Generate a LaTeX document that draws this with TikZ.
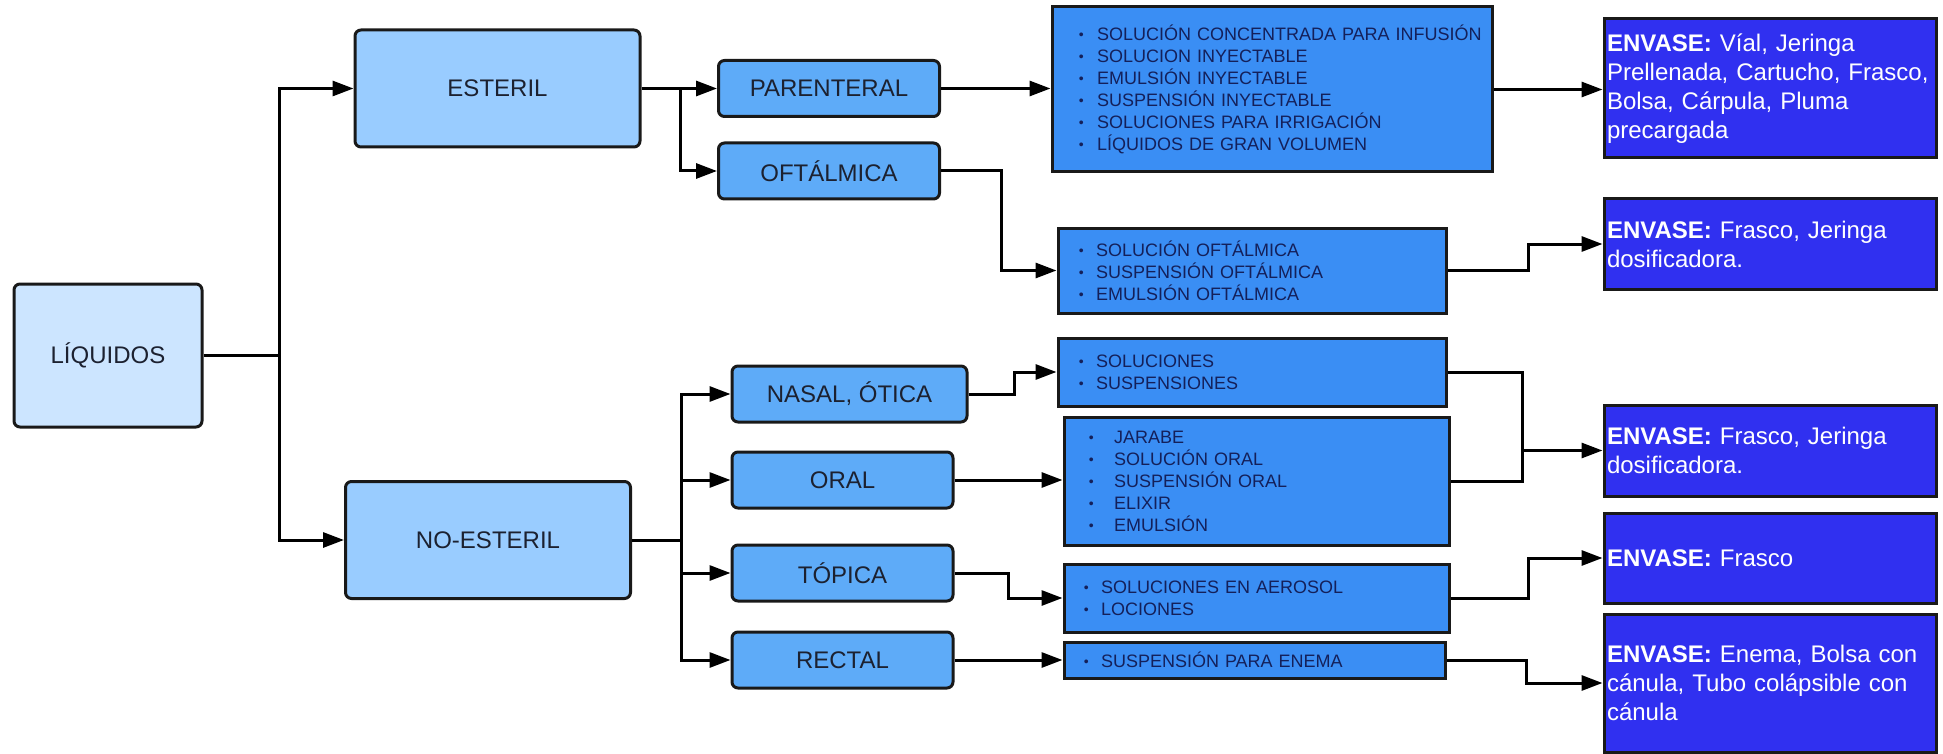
\documentclass[tikz,border=0pt]{standalone}
\usepackage{fontspec}
\setmainfont{Liberation Sans}
\usetikzlibrary{arrows.meta}
\definecolor{cliq}{HTML}{CCE5FF}
\definecolor{cgrupo}{HTML}{99CCFF}
\definecolor{cvia}{HTML}{5EABF8}
\definecolor{clista}{HTML}{3A8EF4}
\definecolor{cenvase}{HTML}{3030F0}
\definecolor{ctexto}{HTML}{1C2130}
\definecolor{cnavy}{HTML}{14205A}
\newcommand{\punto}[2][17.1pt]{\mbox{\makebox[#1][l]{\fontsize{14}{14}\selectfont\raisebox{1pt}{\textbullet}}#2}}
\begin{document}
\begin{tikzpicture}[x=1pt,y=-1pt,
  lin/.style={line width=3pt},
  flecha/.style={lin,-{Triangle[length=21pt,width=15pt]}},
  caja/.style={draw=black!90,line width=3pt,rounded corners=6pt,text=ctexto,inner sep=0pt,font=\fontsize{24}{29}\selectfont},
  raiz/.style={caja,fill=cliq,minimum width=188pt,minimum height=143pt},
  grupo/.style={caja,fill=cgrupo,minimum width=285pt,minimum height=117pt},
  via/.style={caja,fill=cvia,minimum width=221pt,minimum height=56pt},
  lista/.style={draw=black!90,line width=3pt,fill=clista,text=cnavy,align=left,inner ysep=0pt,font=\fontsize{18}{22}\selectfont},
  envase/.style={draw=black!90,line width=3pt,fill=cenvase,text=white,align=left,text width=326pt,inner xsep=3pt,inner ysep=0pt,font=\fontsize{24}{29}\selectfont}]
\useasboundingbox (0,0) rectangle (1943,754);
\node[raiz] (liq) at (108,355.5) {LÍQUIDOS};
\node[grupo] (est) at (497.5,88.5) {ESTERIL};
\node[grupo] (noe) at (488,540) {NO-ESTERIL};
\node[via] (par) at (829,88.5) {PARENTERAL};
\node[via] (oft) at (829,171) {OFTÁLMICA};
\node[via,minimum width=235pt] (nas) at (849.5,394) {NASAL, ÓTICA};
\node[via] (ora) at (842.5,480) {ORAL};
\node[via] (top) at (842.5,573) {TÓPICA};
\node[via] (rec) at (842.5,660) {RECTAL};
\node[lista,text width=386.2pt,inner xsep=26.9pt,minimum height=165pt] (lpar) at (1272,89.5)
  {\punto[18.1pt]{SOLUCIÓN CONCENTRADA PARA INFUSIÓN}\\\punto[18.1pt]{SOLUCION INYECTABLE}\\
   \punto[18.1pt]{EMULSIÓN INYECTABLE}\\\punto[18.1pt]{SUSPENSIÓN INYECTABLE}\\
   \punto[18.1pt]{SOLUCIONES PARA IRRIGACIÓN}\\\punto[18.1pt]{LÍQUIDOS DE GRAN VOLUMEN}};
\node[lista,text width=346.2pt,inner xsep=20.9pt,minimum height=85pt] (loft) at (1252,270.5)
  {\punto{SOLUCIÓN OFTÁLMICA}\\\punto{SUSPENSIÓN OFTÁLMICA}\\\punto{EMULSIÓN OFTÁLMICA}};
\node[lista,text width=346.2pt,inner xsep=20.9pt,minimum height=68pt] (lnas) at (1252,372)
  {\punto{SOLUCIONES}\\\punto{SUSPENSIONES}};
\node[lista,text width=335.2pt,inner xsep=24.9pt,minimum height=128pt] (lora) at (1256.5,481)
  {\punto[25.1pt]{JARABE}\\\punto[25.1pt]{SOLUCIÓN ORAL}\\\punto[25.1pt]{SUSPENSIÓN ORAL}\\
   \punto[25.1pt]{ELIXIR}\\\punto[25.1pt]{EMULSIÓN}};
\node[lista,text width=345.2pt,inner xsep=19.9pt,minimum height=68pt] (ltop) at (1256.5,598)
  {\punto{SOLUCIONES EN AEROSOL}\\\punto{LOCIONES}};
\node[lista,text width=341.2pt,inner xsep=19.9pt,minimum height=36pt] (lrec) at (1254.5,660)
  {\punto{SUSPENSIÓN PARA ENEMA}};
\node[envase,minimum height=139pt] (e1) at (1770,88.5)
  {\textbf{ENVASE:} Víal, Jeringa\\Prellenada, Cartucho, Frasco,\\Bolsa, Cárpula, Pluma\\precargada};
\node[envase,minimum height=90pt] (e2) at (1770,244) {\textbf{ENVASE:} Frasco, Jeringa\\dosificadora.};
\node[envase,minimum height=91pt] (e3) at (1770,450.5) {\textbf{ENVASE:} Frasco, Jeringa\\dosificadora.};
\node[envase,minimum height=90pt] (e4) at (1770,558) {\textbf{ENVASE:} Frasco};
\node[envase,minimum height=138pt] (e5) at (1770,683)
  {\textbf{ENVASE:} Enema, Bolsa con\\cánula, Tubo colápsible con\\cánula};
\coordinate (j0) at (279,355.5);
\coordinate (j1) at (680,88.5);
\coordinate (j2) at (681,540);
\draw[lin] (liq.east) -- (j0);
\draw[flecha] (j0) |- (est.west);
\draw[flecha] (j0) |- (noe.west);
\draw[lin] (est.east) -- (j1);
\draw[flecha] (j1) -- (par.west);
\draw[flecha] (j1) |- (oft.west);
\draw[lin] (noe.east) -- (j2);
\foreach \v in {nas,ora,top,rec}
\draw[flecha] (j2) |- (\v.west);
\draw[flecha] (par.east) -- (par.east -| lpar.west);
\draw[flecha] (oft.east) -- ++(60,0) |- (loft.west);
\draw[flecha] (nas.east) -- ++(46,0) |- (lnas.west);
\draw[flecha] (ora.east) -- (ora.east -| lora.west);
\draw[flecha] (top.east) -- ++(54,0) |- (ltop.west);
\draw[flecha] (rec.east) -- (rec.east -| lrec.west);
\draw[flecha] (lpar.east) -- (lpar.east -| e1.west);
\draw[flecha] (loft.east) -- ++(81,0) |- (e2.west);
\draw[lin] (lnas.east) -- ++(75,0) coordinate (k1) |- (lora.east);
\draw[flecha] (k1 |- e3.west) -- (e3.west);
\draw[flecha] (ltop.east) -- ++(78,0) |- (e4.west);
\draw[flecha] (lrec.east) -- ++(80,0) |- (e5.west);
\end{tikzpicture}
\end{document}
